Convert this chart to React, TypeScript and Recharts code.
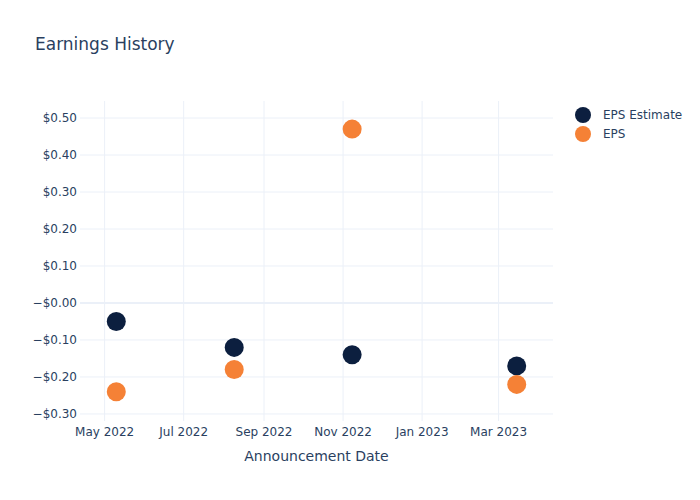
import React from "react";
import {
  ScatterChart,
  Scatter,
  XAxis,
  YAxis,
  CartesianGrid,
  ReferenceLine,
} from "recharts";

const announcementDates = ["2022-05-10", "2022-08-09", "2022-11-08", "2023-03-15"];
const epsEstimate = [-0.05, -0.12, -0.14, -0.17];
const epsActual = [-0.24, -0.18, 0.47, -0.22];

const monthTicks = ["2022-05-01", "2022-07-01", "2022-09-01", "2022-11-01", "2023-01-01", "2023-03-01"];
const yTicks = [-0.3, -0.2, -0.1, 0, 0.1, 0.2, 0.3, 0.4, 0.5];

const seriesNames = ["EPS Estimate", "EPS"];
const seriesColors = ["#0c1f3f", "#f58136"];

const MONTHS = ["Jan", "Feb", "Mar", "Apr", "May", "Jun", "Jul", "Aug", "Sep", "Oct", "Nov", "Dec"];
const FONT = '"DejaVu Sans", verdana, arial, sans-serif';
const TEXT = "#2a3f5f";
const GRID = "#ebf0f8";

const toTs = (d: string) => Date.parse(d + "T00:00:00Z");

const estimateData = announcementDates.map((d, i) => ({ date: toTs(d), value: epsEstimate[i] }));
const epsData = announcementDates.map((d, i) => ({ date: toTs(d), value: epsActual[i] }));

const fmtDate = (v: number) => {
  const d = new Date(v);
  return `${MONTHS[d.getUTCMonth()]} ${d.getUTCFullYear()}`;
};

const fmtMoney = (v: number) => {
  const r = Math.round(v * 100) / 100;
  if (r <= 0) return `\u2212$${Math.abs(r).toFixed(2)}`;
  return `$${r.toFixed(2)}`;
};

const dot = (color: string) => (props: any) => (
  <circle cx={props.cx} cy={props.cy} r={9.5} fill={color} />
);

export default function App() {
  return (
    <div style={{ position: "absolute", left: 0, top: 0, width: 700, height: 500, background: "#fff" }}>
      <div
        style={{
          position: "absolute",
          left: 35,
          top: 34,
          fontFamily: FONT,
          fontSize: 17,
          color: TEXT,
        }}
      >
        Earnings History
      </div>

      {/* legend, plotly style, to the right of the plot */}
      <div
        style={{
          position: "absolute",
          left: 574,
          top: 105,
          fontFamily: FONT,
          fontSize: 12,
          color: TEXT,
        }}
      >
        {seriesNames.map((name, i) => (
          <div key={name} style={{ display: "flex", alignItems: "center", height: 19 }}>
            <svg width={18} height={18} style={{ marginRight: 11 }}>
              <circle cx={9} cy={9} r={8} fill={seriesColors[i]} />
            </svg>
            <span>{name}</span>
          </div>
        ))}
      </div>

      <ScatterChart width={700} height={500} margin={{ top: 101, right: 147, bottom: 19, left: 0 }}>
        <CartesianGrid stroke={GRID} strokeWidth={1} syncWithTicks />
        <XAxis
          type="number"
          dataKey="date"
          domain={[toTs("2022-04-12"), toTs("2023-04-12")]}
          ticks={monthTicks.map(toTs)}
          tickFormatter={fmtDate}
          axisLine={false}
          tickLine={false}
          height={60}
          interval={0}
          tick={{ fill: TEXT, fontSize: 12, fontFamily: FONT }}
          tickMargin={0}
          label={{
            value: "Announcement Date",
            position: "insideBottom",
            offset: 20,
            fill: TEXT,
            fontSize: 14,
            fontFamily: FONT,
          }}
        />
        <YAxis
          type="number"
          dataKey="value"
          domain={[-0.319, 0.546]}
          ticks={yTicks}
          tickFormatter={fmtMoney}
          axisLine={false}
          tickLine={false}
          width={80}
          interval={0}
          tickMargin={0}
          tick={{ fill: TEXT, fontSize: 12, fontFamily: FONT, dx: 3 }}
          allowDataOverflow
        />
        <ReferenceLine y={0} stroke={GRID} strokeWidth={2} />
        <Scatter
          name={seriesNames[0]}
          data={estimateData}
          fill={seriesColors[0]}
          shape={dot(seriesColors[0])}
          isAnimationActive={false}
        />
        <Scatter
          name={seriesNames[1]}
          data={epsData}
          fill={seriesColors[1]}
          shape={dot(seriesColors[1])}
          isAnimationActive={false}
        />
      </ScatterChart>
    </div>
  );
}
